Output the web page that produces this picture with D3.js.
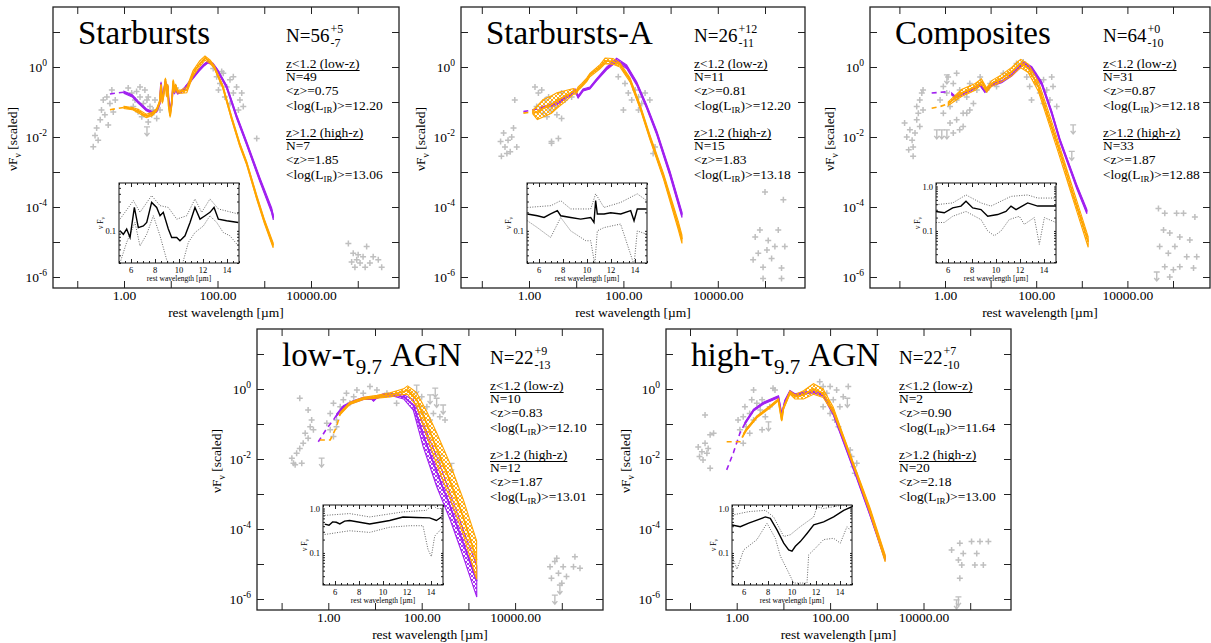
<!DOCTYPE html>
<html><head><meta charset="utf-8">
<script src="https://cdn.jsdelivr.net/npm/d3@7"></script>
<style>
body{margin:0;background:#fff}
svg, text{font-family:"Liberation Serif","Times New Roman",serif}
text{fill:#000}
</style></head>
<body><svg id="c" width="1211" height="643" font-family="Liberation Serif, serif"></svg>
<script>
// ---------- text data ----------
const titleMain = ["Starbursts","Starbursts-A","Composites","low-τ","high-τ"];
const titleSub  = ["","","","9.7","9.7"];
const titleTail = ["","",""," AGN"," AGN"];
const nTotal = [56,26,64,22,22];
const nPlus  = ["+5","+12","+0","+9","+7"];
const nMinus = ["-7","-11","-10","-13","-10"];
const lowN  = [49,11,31,10,2];
const lowZ  = ["0.75","0.81","0.87","0.83","0.90"];
const lowL  = ["12.20","12.20","12.18","12.10","11.64"];
const highN = [7,15,33,12,20];
const highZ = ["1.85","1.83","1.87","1.87","2.18"];
const highL = ["13.06","13.18","12.88","13.01","13.00"];
const xTickLabels = [1,100,10000];
const yTickLabels = [0,-2,-4,-6];
const insetXTicks = [6,8,10,12,14];

// ---------- Starbursts ----------
const sbGray = [[0.22,0.0053],[0.24,0.011],[0.26,0.018],[0.31,0.031],[0.33,0.059],[0.36,0.115],[0.43,0.14],[0.50,0.091],[0.55,0.22],[0.39,0.043],[0.28,0.0081],[0.46,0.022],[0.65,0.115],[0.59,0.052],
[1.23,0.25],[1.46,0.18],[1.86,0.2],[2.2,0.14],[2.6,0.09],[3.1,0.115],[3.6,0.074],[4.2,0.059],[1.58,0.074],[2.0,0.053],[2.4,0.038],[3.3,0.027],[3.9,0.043],[5.0,0.034],[5.9,0.059],[1.72,0.115],[2.8,0.22],[4.6,0.115],[2.2,0.27],[3.3,0.14],[13,0.25],
[81,0.91],[96,0.53],[113,0.34],[133,0.66],[157,0.27],[185,0.43],[218,0.18],[256,0.27],[302,0.115],[356,0.074],[144,0.14],[185,0.09],[105,0.22],[218,0.53],[280,0.059],[123,0.74],[330,0.18],[690,0.009],
[63000,9e-6],[80000,4.8e-6],[95000,3.1e-6],[112000,2.5e-6],[87000,1.9e-6],[130000,3.8e-6],[155000,7.4e-6],[182000,2.5e-6],[214000,3.8e-6],[275000,3.1e-6],[325000,1.9e-6],[74000,2.7e-6],[102000,4.3e-6],[144000,1.9e-6]];
const sbLim = [[3.1,0.014]];
const sbPurpleDash = [[0.5,0.17],[0.7,0.18],[1.0,0.19]];
const sbPurple = [[1.0,0.19,.03],[1.5,0.15,.03],[2.0,0.10,.03],[3.0,0.06,.03],[4.0,0.05,.03],[5.0,0.055,.03],[5.8,0.09,.03],[6.2,0.35,.03],[6.6,0.12,.03],[7.0,0.18,.03],[7.7,0.38,.03],[8.2,0.2,.03],[8.6,0.28,.03],[9.0,0.12,.03],[9.7,0.05,.03],[10.5,0.1,.03],[11.3,0.3,.03],[12.0,0.18,.03],[12.7,0.25,.03],[14,0.18,.03],[17,0.2,.03],[20,0.25,.03],[30,0.5,.03],[40,0.8,.03],[50,1.1,.03],[63,1.4,.03],[80,1.2,.03],[100,0.8,.03],[157,0.27,.04],[257,0.038,.05],[420,6.6e-3,.05],[810,5.9e-4,.06],[1440,8e-5,.07],[1560,5e-5,.07]];
const sbOrangeDash = [[0.5,0.06],[0.7,0.065],[1.0,0.07]];
const sbOrange = [[1.0,0.07,.03],[1.5,0.065,.03],[2.0,0.055,.05],[3.0,0.04,.05],[4.0,0.045,.05],[5.0,0.06,.04],[5.8,0.1,.04],[6.2,0.3,.04],[6.6,0.1,.04],[7.0,0.15,.04],[7.7,0.45,.04],[8.2,0.15,.04],[8.6,0.3,.04],[9.0,0.08,.04],[9.7,0.04,.04],[10.5,0.09,.04],[11.3,0.4,.04],[12.0,0.2,.04],[12.7,0.3,.04],[14,0.2,.04],[17,0.2,.05],[22,0.22,.08],[30,0.66,.08],[42,1.26,.08],[54,1.8,.06],[70,1.4,.05],[85,1.0,.04],[130,0.27,.04],[200,0.035,.05],[300,0.006,.05],[420,1.8e-3,.05],[690,1.9e-4,.06],[1000,4e-5,.06],[1550,8e-6,.07]];
const sbInMed = [[5.08,0.1],[5.36,0.088],[5.64,0.107],[5.92,0.078],[6.28,0.24],[6.61,0.113],[7.03,0.12],[7.31,0.137],[7.72,0.29],[8.14,0.24],[8.42,0.176],[8.69,0.2],[9.11,0.107],[9.39,0.078],[9.81,0.078],[10.08,0.069],[10.5,0.083],[10.92,0.137],[11.33,0.24],[11.75,0.155],[12.17,0.176],[12.58,0.2],[12.92,0.24],[13.28,0.155],[13.97,0.146],[14.94,0.137]];
const sbInUp = [[5.08,0.155],[6.2,0.31],[6.75,0.2],[7.72,0.375],[8.42,0.257],[9.11,0.24],[9.81,0.155],[10.64,0.176],[11.33,0.33],[11.89,0.2],[12.58,0.33],[13.28,0.227],[14.94,0.188]];
const sbInLo = [[5.08,0.03],[5.64,0.065],[6.33,0.137],[6.75,0.057],[7.31,0.088],[7.86,0.176],[8.42,0.083],[8.97,0.034],[9.39,0.025],[10.2,0.025],[10.78,0.065],[11.33,0.094],[12.03,0.12],[12.58,0.176],[13.14,0.137],[13.69,0.094],[14.25,0.083],[14.94,0.057]];

// ---------- Starbursts-A ----------
const sbaGray = [[0.26,0.0028],[0.31,0.0052],[0.36,0.0081],[0.25,0.0074],[0.43,0.010],[0.4,0.0038],[0.5,0.115],[0.55,0.0052],[0.29,0.013],[0.34,0.0034],[0.47,0.018],
[1.34,0.27],[1.58,0.18],[1.86,0.22],[2.2,0.115],[2.6,0.14],[3.0,0.09],[3.5,0.074],[4.2,0.115],[4.9,0.18],[5.8,0.115],[1.45,0.074],[2.0,0.048],[2.4,0.038],[2.8,0.059],[3.9,0.043],[3.0,0.0066],[8.0,0.14],[4.9,0.034],[4.2,0.0091],[3.0,0.0074],
[78,0.53],[108,0.34],[127,0.18],[150,0.115],[178,0.22],[209,0.14],[245,0.09],[288,0.18],[363,0.115],[100,0.059],[209,0.059],[427,0.0034],[468,0.0052],
[100000,2.7e-4],[245000,1.6e-4],[62000,1.4e-5],[78000,2.2e-5],[117000,1.1e-5],[162000,7.4e-6],[191000,2.2e-5],[138000,3.4e-6],[72000,4.8e-6],[56000,3.1e-6],[91000,1.9e-6],[224000,1.8e-6],[91000,9e-7],[224000,9e-7],[263000,7.4e-6],[110000,5.9e-6]];
const sbaLim = [];
const sbaPurpleDash = [[0.76,0.053],[1.1,0.058],[1.7,0.066]];
const sbaPurple = [[1.7,0.066,.03],[3.9,0.09,.03],[7.4,0.16,.03],[9.4,0.22,.03],[11,0.14,.03],[14,0.22,.03],[19.5,0.25,.03],[27,0.43,.03],[44,0.91,.04],[72,1.58,.05],[117,1.02,.05],[191,0.34,.05],[310,0.074,.05],[510,0.013,.06],[970,9e-4,.07],[1740,6e-5,.08]];
const sbaOrangeDash = [[0.76,0.048],[1.2,0.052]];
const sbaOrange = [[1.2,0.052,.05],[1.5,0.05,.2],[2.0,0.066,.25],[3.0,0.085,.25],[3.9,0.11,.22],[6,0.15,.15],[8.7,0.2,.08],[10,0.19,.05],[11,0.24,.05],[13,0.3,.05],[16.7,0.43,.05],[19.5,0.59,.05],[32,1.02,.06],[41,1.5,.08],[60,1.45,.08],[85,1.14,.06],[138,0.43,.06],[225,0.074,.06],[363,0.010,.07],[710,7.4e-4,.08],[1450,3e-5,.12],[1740,1.2e-5,.12]];
const sbaInMed = [[5.03,0.188],[5.86,0.176],[6.42,0.165],[6.97,0.188],[7.53,0.213],[7.81,0.176],[8.64,0.165],[9.47,0.155],[10.31,0.165],[10.58,0.137],[10.72,0.31],[10.86,0.188],[11.42,0.188],[11.97,0.197],[12.81,0.188],[13.64,0.213],[13.92,0.146],[14.19,0.227],[14.97,0.227]];
const sbaInUp = [[5.03,0.24],[7.0,0.257],[7.81,0.31],[8.64,0.227],[10.31,0.227],[10.72,0.4],[11.42,0.24],[12.81,0.29],[14.19,0.4],[14.97,0.31]];
const sbaInLo = [[5.03,0.146],[5.86,0.113],[6.97,0.078],[7.81,0.165],[8.64,0.1],[9.9,0.069],[10.31,0.069],[10.65,0.028],[10.86,0.1],[11.42,0.113],[12.8,0.129],[13.92,0.028],[14.19,0.1],[14.97,0.088]];

// ---------- Composites ----------
const compGray = [[0.13,0.025],[0.145,0.010],[0.17,0.016],[0.19,0.0081],[0.2,0.0052],[0.22,0.013],[0.24,0.031],[0.26,0.048],[0.28,0.115],[0.31,0.18],[0.33,0.22],[0.24,0.074],[0.28,0.02],[0.2,0.0028],[0.16,0.0043],[0.33,0.059],
[0.78,0.115],[0.92,0.275],[1.09,0.18],[1.29,0.074],[1.52,0.34],[1.8,0.115],[2.1,0.22],[2.5,0.048],[3.0,0.14],[3.5,0.34],[4.2,0.091],[5.0,0.22],[5.9,0.52],[1.29,0.025],[1.8,0.031],[2.1,0.016],[1.52,0.013],[2.5,0.02],[3.0,0.048],[0.92,0.048],[1.17,0.52],[1.8,0.66],[3.5,0.059],[8.2,0.22],[9.8,0.34],[13.5,0.275],[19,0.66],[37,1.26],[52,1.4],
[62,0.52],[72,0.275],[87,0.66],[102,0.34],[120,0.18],[145,0.43],[170,0.22],[200,0.115],[234,0.275],[282,0.074],[79,0.115],[145,0.091],[219,0.52],
[48000,9.1e-5],[66000,6.6e-5],[120000,6.6e-5],[170000,6.6e-5],[302000,5.2e-5],[62000,2.2e-5],[85000,1.8e-5],[141000,1.4e-5],[234000,1.15e-5],[51000,7.4e-6],[79000,4.8e-6],[110000,7.4e-6],[200000,3.8e-6],[331000,3.8e-6],[66000,1.95e-6],[102000,1.6e-6],[141000,1.95e-6],[282000,1.8e-6],[85000,1.0e-6]];
const compLim = [[0.66,0.0115],[0.85,0.0115],[1.1,0.0115],[1.1,0.43],[646,0.016],[603,0.0028],[44000,1.0e-6]];
const compPurpleDash = [[0.51,0.18],[0.8,0.19],[1.29,0.2]];
const compPurple = [[1.4,0.17,.03],[1.66,0.14,.03],[3.2,0.2,.03],[5.9,0.31,.03],[7.5,0.2,.03],[10.6,0.31,.03],[17.5,0.38,.03],[29,0.59,.03],[48,1.14,.04],[55,1.26,.04],[80,0.91,.05],[132,0.34,.05],[218,0.05,.05],[330,0.0081,.05],[775,3.8e-4,.06],[1290,7.4e-5,.06]];
const compOrangeDash = [[0.51,0.066],[0.8,0.075],[1.18,0.09]];
const compOrange = [[1.18,0.09,.05],[2.3,0.18,.1],[4.6,0.27,.1],[6.3,0.38,.08],[8.2,0.22,.06],[10.6,0.34,.08],[17.5,0.48,.1],[29,0.74,.12],[41,1.14,.12],[46,1.26,.12],[67,0.91,.12],[112,0.275,.14],[185,0.038,.15],[302,0.0053,.15],[600,3.1e-4,.15],[1380,1e-5,.15]];
const compInMed = [[5.0,0.275],[5.69,0.257],[6.39,0.33],[7.08,0.363],[7.5,0.468],[8.06,0.33],[8.75,0.302],[9.31,0.214],[10.14,0.234],[10.83,0.275],[11.25,0.363],[11.67,0.302],[12.64,0.427],[13.47,0.363],[15.0,0.363]];
const compInUp = [[5.0,0.39],[6.39,0.427],[7.5,0.646],[8.75,0.427],[9.58,0.363],[11.25,0.6],[12.64,0.646],[13.47,0.55],[15.0,0.55]];
const compInLo = [[5.0,0.155],[5.69,0.155],[6.39,0.214],[7.5,0.275],[8.75,0.18],[9.31,0.1],[9.86,0.078],[10.42,0.1],[11.1,0.18],[11.94,0.214],[12.36,0.141],[13.19,0.2],[13.61,0.05],[14.03,0.2],[15.0,0.155]];

// ---------- low-tau AGN ----------
const ltGray = [[0.166,0.0105],[0.195,0.0068],[0.21,0.0145],[0.245,0.020],[0.27,0.0076],[0.29,0.028],[0.32,0.054],[0.37,0.039],[0.41,0.083],[0.44,0.13],[0.245,0.54],[0.37,0.25],[0.18,0.0076],[0.48,0.068],
[1.1,0.2],[1.29,0.39],[1.5,0.13],[1.8,0.31],[2.1,0.49],[2.45,0.76],[2.9,0.39],[3.5,0.6],[4.1,0.93],[1.1,0.068],[1.29,0.044],[1.5,0.083],[0.93,0.105],[5.6,0.76],[7.8,1.17],[11,0.93],[18,0.76],[29,0.39],
[100,0.6],[129,0.31],[178,0.2],[245,0.16],[107,0.2],[151,0.13],[91,0.31],[316,0.13],
[56000,8.3e-6],[71000,1.17e-5],[85000,5.4e-6],[107000,8.3e-6],[78000,1.45e-5],[126000,4.4e-6],[100000,2.8e-6],[178000,8.3e-6],[191000,1.6e-5],[245000,7.6e-6],[60000,3.9e-6]];
const ltLim = [[0.72,0.0076],[78,0.93],[151,0.49],[288,0.25],[195,0.76],[209,0.39],[245,0.0093],[436,0.0054],[71000,9.3e-7],[91000,1.8e-6]];
const ltPurpleDash = [[0.61,0.031],[0.93,0.075],[1.29,0.13],[1.5,0.18]];
const ltPurple = [[1.5,0.18,.03],[2.1,0.31,.03],[3.4,0.43,.03],[5.7,0.54,.03],[8.5,0.54,.03],[9.3,0.48,.03],[10.5,0.56,.03],[15,0.68,.03],[25,0.68,.04],[41,0.6,.06],[66,0.35,.15],[107,0.049,.33],[209,0.0044,.43],[407,4.4e-4,.38],[776,3.9e-5,.38],[1510,3.2e-6,.45]];
const ltOrangeDash = [[0.66,0.035],[1.1,0.035],[1.5,0.083],[1.8,0.2]];
const ltOrange = [[1.8,0.2,.03],[2.9,0.39,.03],[5.7,0.54,.03],[11,0.6,.04],[21,0.68,.06],[41,0.84,.08],[50,0.93,.12],[78,0.5,.2],[129,0.1,.35],[209,0.02,.45],[407,2.3e-3,.5],[776,2.2e-4,.5],[1500,1.3e-5,.55]];
const ltInMed = [[5.14,0.447],[5.5,0.42],[5.8,0.5],[6.11,0.49],[6.4,0.45],[6.8,0.52],[7.22,0.537],[8.89,0.447],[10.56,0.537],[11.67,0.646],[12.78,0.63],[13.89,0.617],[14.45,0.537],[14.87,0.646]];
const ltInUp = [[5.14,0.7],[7.22,0.77],[8.89,0.646],[11.67,0.84],[13.61,0.91],[14.17,1.23],[14.45,1.0],[14.87,1.0]];
const ltInLo = [[5.14,0.26],[7.22,0.316],[8.89,0.29],[10.56,0.38],[12.22,0.41],[13.33,0.41],[13.75,0.12],[14.03,0.083],[14.31,0.24],[14.87,0.35]];

// ---------- high-tau AGN ----------
const htGray = [[0.15,0.022],[0.16,0.0117],[0.18,0.016],[0.19,0.0093],[0.21,0.028],[0.23,0.0145],[0.245,0.020],[0.27,0.049],[0.32,0.054],[0.27,0.0054],[0.21,0.18],
[1.07,0.13],[1.17,0.068],[1.38,0.16],[1.5,0.31],[1.6,0.083],[1.9,0.2],[2.1,0.49],[2.3,0.13],[2.7,0.39],[3.2,0.25],[3.5,0.068],[4.1,0.16],[5.1,0.31],[1.9,0.054],[1.38,0.028],[6.0,1.05],[6.6,0.93],[2.3,0.93],[3.5,0.49],
[60,1.6],[71,1.17],[85,0.76],[100,1.17],[117,0.49],[138,0.93],[162,0.31],[191,0.6],[100,0.2],[126,0.13],[151,0.083],[71,0.31],[245,1.17],[288,0.0117],[316,0.006],[372,0.0076],[339,0.0039],[269,0.018],
[40000,2.5e-5],[60000,3.9e-5],[71000,2.0e-5],[107000,4.4e-5],[162000,4.4e-5],[245000,4.4e-5],[138000,2.0e-5],[191000,9.3e-6],[126000,9.3e-6],[66000,9.3e-6],[56000,1.3e-5],[60000,3.9e-6]];
const htLim = [[4.8,0.083],[234,0.39],[56000,8.3e-7],[51000,6.8e-7]];
const htPurpleDash = [[0.61,0.0049],[0.85,0.015],[1.17,0.054],[1.5,0.105]];
const htPurple = [[1.5,0.105,.03],[2.3,0.25,.03],[3.7,0.39,.03],[7.8,0.6,.03],[9.2,0.18,.03],[10.8,0.45,.03],[13.8,0.84,.03],[17.7,0.68,.03],[27,0.76,.03],[44,0.83,.03],[71,0.68,.04],[117,0.2,.04],[191,0.035,.05],[372,0.0031,.05],[708,2.8e-4,.05],[1510,1.45e-5,.06]];
const htOrangeDash = [[0.61,0.031],[1.17,0.031],[1.4,0.05]];
const htOrange = [[1.4,0.05,.03],[1.6,0.068,.03],[2.7,0.16,.03],[5.2,0.31,.03],[7.8,0.49,.03],[9.2,0.13,.03],[10,0.28,.03],[13.8,0.79,.04],[17.7,0.6,.06],[27,0.68,.12],[44,1.0,.15],[71,0.76,.12],[117,0.25,.08],[191,0.043,.05],[372,0.0038,.05],[708,3.5e-4,.08],[1510,1.45e-5,.1]];
const htInMed = [[5.0,0.427],[5.69,0.39],[6.39,0.468],[7.08,0.55],[7.78,0.646],[8.19,0.6],[8.75,0.33],[9.31,0.166],[9.72,0.117],[10.0,0.11],[10.28,0.141],[10.69,0.18],[11.25,0.275],[11.81,0.427],[12.64,0.5],[13.47,0.646],[14.31,0.91],[15.0,1.1]];
const htInUp = [[5.0,0.71],[6.39,0.85],[7.78,0.91],[8.47,0.646],[9.31,0.234],[9.86,0.257],[10.69,0.39],[11.81,0.646],[12.08,1.1],[12.64,1.0],[13.47,1.1],[15.0,1.29]];
const htInLo = [[5.0,0.085],[5.42,0.043],[5.97,0.117],[7.08,0.2],[7.92,0.468],[8.61,0.214],[9.03,0.085],[9.58,0.043],[10.14,0.021],[11.25,0.021],[11.39,0.091],[11.81,0.117],[12.64,0.2],[13.47,0.214],[14.03,0.166],[14.58,0.39],[15.0,0.3]];

// ---------- assemble ----------
const panelData = [
 {gray:sbGray,lim:sbLim,pd:sbPurpleDash,p:sbPurple,od:sbOrangeDash,o:sbOrange,im:sbInMed,iu:sbInUp,il:sbInLo},
 {gray:sbaGray,lim:sbaLim,pd:sbaPurpleDash,p:sbaPurple,od:sbaOrangeDash,o:sbaOrange,im:sbaInMed,iu:sbaInUp,il:sbaInLo},
 {gray:compGray,lim:compLim,pd:compPurpleDash,p:compPurple,od:compOrangeDash,o:compOrange,im:compInMed,iu:compInUp,il:compInLo},
 {gray:ltGray,lim:ltLim,pd:ltPurpleDash,p:ltPurple,od:ltOrangeDash,o:ltOrange,im:ltInMed,iu:ltInUp,il:ltInLo},
 {gray:htGray,lim:htLim,pd:htPurpleDash,p:htPurple,od:htOrangeDash,o:htOrange,im:htInMed,iu:htInUp,il:htInLo}
];
const layout = [
 {x:53,y:7,w:346,h:281,x1:124,dec:46.75},
 {x:461,y:7,w:344,h:281,x1:529,dec:47.2},
 {x:870,y:7,w:340,h:281,x1:945,dec:45.6},
 {x:257,y:329,w:346,h:281,x1:328.3,dec:46.7},
 {x:666,y:329,w:345,h:281,x1:736.7,dec:46.7}
];
const insetDomain = [[0.03,0.6],[0.03,0.6],[0.019,1.2],[0.019,1.2],[0.019,1.2]];

const PURPLE="#a020f0", ORANGE="#ffa500", GRAY="#bfbfbf";
const FONT="Liberation Serif, Times New Roman, serif";
const svg=d3.select("#c");
const defs=svg.append("defs");
function hatch(id,color){
  const p=defs.append("pattern").attr("id",id).attr("width",4).attr("height",4).attr("patternUnits","userSpaceOnUse");
  p.append("path").attr("d","M0,0L4,4M4,0L0,4").attr("stroke",color).attr("stroke-width",0.9);
}
hatch("hP",PURPLE); hatch("hO",ORANGE);

function drawTemplate(g,x,y,dash,solid,color,pat){
  const line=d3.line().x(d=>x(d[0])).y(d=>y(d[1]));
  g.append("path").attr("d",line(dash)).attr("fill","none").attr("stroke",color).attr("stroke-width",1.6).attr("stroke-dasharray","5,4");
  const area=d3.area().x(d=>x(d[0])).y0(d=>y(d[1]/Math.pow(10,d[2]))).y1(d=>y(d[1]*Math.pow(10,d[2])));
  g.append("path").attr("d",area(solid)).attr("fill",`url(#${pat})`).attr("stroke",color).attr("stroke-width",1.1);
  g.append("path").attr("d",line(solid)).attr("fill","none").attr("stroke",color).attr("stroke-width",1.8);
}

function styleAxis(s){ s.select(".domain").remove(); s.selectAll("line").attr("stroke","#222"); }
function T(g){ return g.append("text").attr("font-family",FONT).attr("fill","#000"); }

layout.forEach((L,i)=>{
  const D=panelData[i];
  const g=svg.append("g");
  const x=d3.scaleLog().domain([1,1e4]).range([L.x1,L.x1+4*L.dec]);
  const y=d3.scaleLog().domain([1,1e-6]).range([L.y+60,L.y+270]);
  defs.append("clipPath").attr("id","cp"+i).append("rect").attr("x",L.x).attr("y",L.y).attr("width",L.w).attr("height",L.h);
  const plot=g.append("g").attr("clip-path",`url(#cp${i})`);
  plot.selectAll(".pt").data(D.gray).join("path").attr("d","M-3,0H3M0,-3V3")
    .attr("transform",d=>`translate(${x(d[0])},${y(d[1])})`).attr("stroke",GRAY).attr("stroke-width",1.5).attr("fill","none");
  plot.selectAll(".lim").data(D.lim).join("path").attr("d","M-3,-5H3M0,-5V4M-2.5,1L0,4L2.5,1")
    .attr("transform",d=>`translate(${x(d[0])},${y(d[1])})`).attr("stroke",GRAY).attr("stroke-width",1.4).attr("fill","none");
  drawTemplate(plot,x,y,D.pd,D.p,PURPLE,"hP");
  drawTemplate(plot,x,y,D.od,D.o,ORANGE,"hO");

  // axes
  const xt=[0.1,1,10,100,1000,1e4,1e5].filter(v=>x(v)>L.x+2&&x(v)<L.x+L.w-2);
  const yt=[10,1,0.1,0.01,1e-3,1e-4,1e-5,1e-6];
  g.append("g").attr("transform",`translate(0,${L.y+L.h})`)
    .call(d3.axisBottom(x).tickValues(xt).tickSize(-7).tickFormat(v=>xTickLabels.includes(v)?d3.format(".2f")(v):""))
    .call(styleAxis).call(s=>s.selectAll("text").attr("y",12).attr("dy",null).attr("font-size",13.5)
      .attr("font-family",FONT).attr("fill","#000"));
  g.append("g").attr("transform",`translate(0,${L.y})`)
    .call(d3.axisTop(x).tickValues(xt).tickSize(-7).tickFormat("")).call(styleAxis);
  g.append("g").attr("transform",`translate(${L.x},0)`)
    .call(d3.axisLeft(y).tickValues(yt).tickSize(-7).tickFormat("")).call(styleAxis);
  g.append("g").attr("transform",`translate(${L.x+L.w},0)`)
    .call(d3.axisRight(y).tickValues(yt).tickSize(-7).tickFormat("")).call(styleAxis);
  yTickLabels.forEach(e=>{
    const t=T(g).attr("x",L.x-6).attr("y",y(Math.pow(10,e))+5).attr("text-anchor","end").attr("font-size",13.5);
    t.append("tspan").text("10");
    t.append("tspan").attr("dy",-6).attr("font-size",9.5).text(String(e));
  });
  g.append("rect").attr("x",L.x).attr("y",L.y).attr("width",L.w).attr("height",L.h).attr("fill","none").attr("stroke","#222").attr("stroke-width",1.3);

  // axis titles
  const yl=T(g).attr("transform",`translate(${L.x-36},${L.y+132}) rotate(-90)`).attr("text-anchor","middle").attr("font-size",13.5);
  yl.append("tspan").text("νF");
  yl.append("tspan").attr("dy",4).attr("font-size",9.5).text("ν");
  yl.append("tspan").attr("dy",-4).text(" [scaled]");
  T(g).attr("x",L.x+L.w/2).attr("y",L.y+L.h+29).attr("text-anchor","middle").attr("font-size",13.5).text("rest wavelength [µm]");

  // title
  const tt=T(g).attr("x",L.x+25).attr("y",L.y+37).attr("font-size",33);
  tt.append("tspan").text(titleMain[i]);
  if(titleSub[i]){ tt.append("tspan").attr("dy",8).attr("font-size",21).text(titleSub[i]);
    tt.append("tspan").attr("dy",-8).text(titleTail[i]); }

  // N text
  const nx=L.x+233, ny=L.y+35;
  const nt=T(g).attr("x",nx).attr("y",ny).attr("font-size",19).text("N="+nTotal[i]);
  const nl=nt.node().getComputedTextLength();
  T(g).attr("x",nx+nl+1).attr("y",ny-9).attr("font-size",12).text(nPlus[i]);
  T(g).attr("x",nx+nl+1).attr("y",ny+5).attr("font-size",12).text(nMinus[i]);

  // info blocks
  function block(yb,head,n,z,l){
    const h=T(g).attr("x",nx).attr("y",yb).attr("font-size",13.5).text(head);
    const hl=h.node().getComputedTextLength();
    g.append("line").attr("x1",nx).attr("x2",nx+hl).attr("y1",yb+2.5).attr("y2",yb+2.5).attr("stroke","#000").attr("stroke-width",1);
    T(g).attr("x",nx).attr("y",yb+13).attr("font-size",13.5).text("N="+n);
    T(g).attr("x",nx).attr("y",yb+27).attr("font-size",13.5).text("<z>="+z);
    const lt=T(g).attr("x",nx).attr("y",yb+42).attr("font-size",13.5);
    lt.append("tspan").text("<log(L");
    lt.append("tspan").attr("dy",3).attr("font-size",9).text("IR");
    lt.append("tspan").attr("dy",-3).text(")>="+l);
  }
  block(L.y+61,"z<1.2 (low-z)",lowN[i],lowZ[i],lowL[i]);
  block(L.y+130,"z>1.2 (high-z)",highN[i],highZ[i],highL[i]);

  // inset
  const ix=L.x+66, iy=L.y+176, iw=120, ih=80;
  const xs=d3.scaleLinear().domain([5,15]).range([ix,ix+iw]);
  const ys=d3.scaleLog().domain(insetDomain[i]).range([iy+ih,iy]);
  const ig=g.append("g");
  ig.append("rect").attr("x",ix).attr("y",iy).attr("width",iw).attr("height",ih).attr("fill","#fff");
  defs.append("clipPath").attr("id","icp"+i).append("rect").attr("x",ix).attr("y",iy).attr("width",iw).attr("height",ih);
  const ip=ig.append("g").attr("clip-path",`url(#icp${i})`);
  const il=d3.line().x(d=>xs(d[0])).y(d=>ys(d[1]));
  ip.append("path").attr("d",il(D.iu)).attr("fill","none").attr("stroke","#666").attr("stroke-width",1).attr("stroke-dasharray","1,1.5");
  ip.append("path").attr("d",il(D.il)).attr("fill","none").attr("stroke","#666").attr("stroke-width",1).attr("stroke-dasharray","1,1.5");
  ip.append("path").attr("d",il(D.im)).attr("fill","none").attr("stroke","#000").attr("stroke-width",1.4);
  const xmin=d3.range(5,15.01,0.5);
  ig.append("g").attr("transform",`translate(0,${iy+ih})`).call(d3.axisBottom(xs).tickValues(xmin).tickSize(-2).tickFormat("")).call(styleAxis);
  ig.append("g").attr("transform",`translate(0,${iy})`).call(d3.axisTop(xs).tickValues(xmin).tickSize(-2).tickFormat("")).call(styleAxis);
  ig.append("g").attr("transform",`translate(0,${iy+ih})`).call(d3.axisBottom(xs).tickValues(insetXTicks).tickSize(-4).tickFormat("")).call(styleAxis);
  ig.append("g").attr("transform",`translate(0,${iy})`).call(d3.axisTop(xs).tickValues(insetXTicks).tickSize(-4).tickFormat("")).call(styleAxis);
  const ymin=[];[0.01,0.1,1].forEach(b=>{for(let k=1;k<10;k++){const v=b*k; if(v>=insetDomain[i][0]&&v<=insetDomain[i][1]) ymin.push(v);}});
  ig.append("g").attr("transform",`translate(${ix},0)`).call(d3.axisLeft(ys).tickValues(ymin).tickSize(-2).tickFormat("")).call(styleAxis);
  ig.append("g").attr("transform",`translate(${ix+iw},0)`).call(d3.axisRight(ys).tickValues(ymin).tickSize(-2).tickFormat("")).call(styleAxis);
  insetXTicks.forEach(v=>T(ig).attr("x",xs(v)).attr("y",iy+ih+10).attr("text-anchor","middle").attr("font-size",8.5).attr("fill","#444").text(v));
  [0.1,1].forEach(v=>{ if(v>=insetDomain[i][0]&&v<=insetDomain[i][1])
    T(ig).attr("x",ix-3).attr("y",ys(v)+3).attr("text-anchor","end").attr("font-size",8.5).attr("fill","#444").text(v.toFixed(1)); });
  T(ig).attr("x",ix+iw/2).attr("y",iy+ih+18).attr("text-anchor","middle").attr("font-size",7.5).attr("fill","#444").text("rest wavelength [µm]");
  const iyl=T(ig).attr("transform",`translate(${ix-16},${iy+ih/2}) rotate(-90)`).attr("text-anchor","middle").attr("font-size",7.5).attr("fill","#444");
  iyl.append("tspan").text("ν F");
  iyl.append("tspan").attr("dy",2).attr("font-size",5.5).text("ν");
  ig.append("rect").attr("x",ix).attr("y",iy).attr("width",iw).attr("height",ih).attr("fill","none").attr("stroke","#111").attr("stroke-width",1);
});
</script></body></html>
